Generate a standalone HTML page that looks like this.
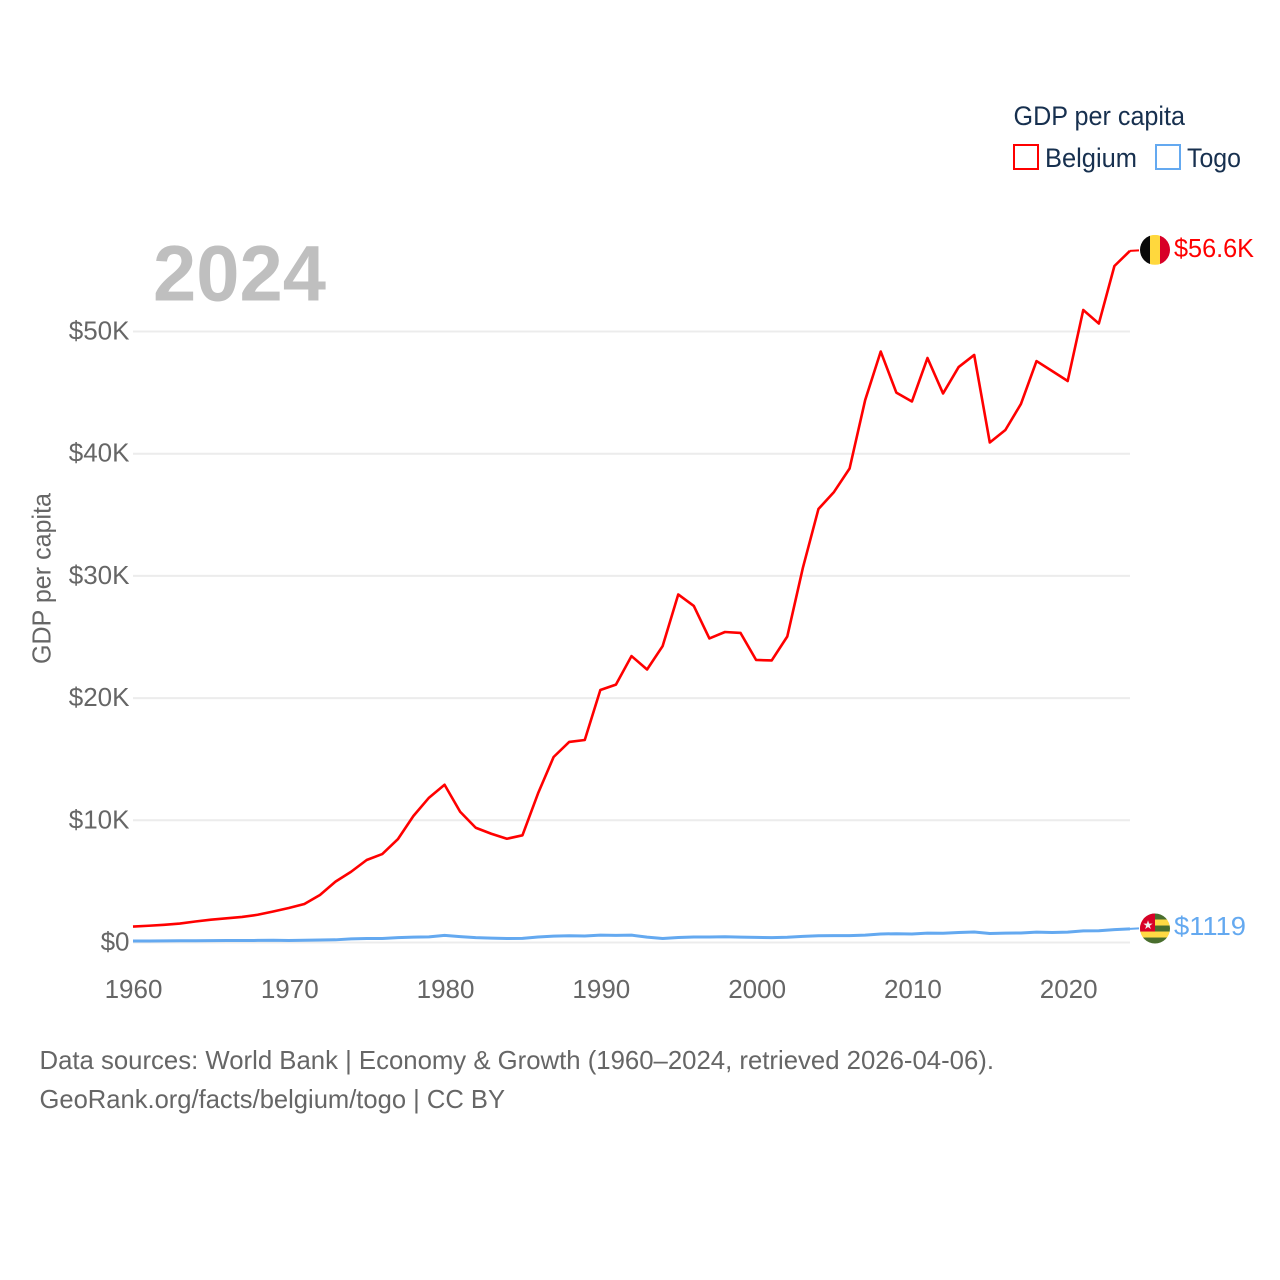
<!DOCTYPE html>
<html lang="en">
<head>
<meta charset="utf-8">
<title>GDP per capita: Belgium and Togo</title>
<style>
  html, body { margin: 0; padding: 0; background: #fff; }
  svg { display: block; font-family: "Liberation Sans", Arial, sans-serif; }
</style>
</head>
<body>
<svg id="chart" xmlns="http://www.w3.org/2000/svg" width="1280" height="1280" viewBox="0 0 1280 1280">
  <defs>
    <clipPath id="flag-clip-be"><circle cx="1155" cy="0" r="15"></circle></clipPath>
    <clipPath id="flag-clip-tg"><circle cx="1155" cy="0" r="15"></circle></clipPath>
  </defs>
  <rect width="1280" height="1280" fill="#fff"></rect>

  <g id="grid"></g>
  <g id="y-ticks"></g>
  <g id="x-ticks"></g>

  <text x="153" y="300.5" font-size="79" font-weight="700" fill="#bfbfbf" textLength="173" lengthAdjust="spacingAndGlyphs">2024</text>

  <text transform="translate(50.5,664) rotate(-90)" font-size="26" fill="#666" textLength="171" lengthAdjust="spacingAndGlyphs">GDP per capita</text>

  <g id="series"></g>

  <g id="flag-belgium"></g>
  <g id="flag-togo"></g>

  <text id="label-belgium" x="1174" font-size="26" fill="#ff0000" textLength="80" lengthAdjust="spacingAndGlyphs"></text>
  <text id="label-togo" x="1174" font-size="26" fill="#64a9f0" textLength="72" lengthAdjust="spacingAndGlyphs"></text>

  <g>
    <text x="1013.5" y="125" font-size="27" fill="#17304f" textLength="171.5" lengthAdjust="spacingAndGlyphs">GDP per capita</text>
    <g>
      <rect x="1014" y="145" width="24" height="24" fill="#fff" stroke="#ff0000" stroke-width="2"></rect>
      <text x="1045" y="167" font-size="27" fill="#17304f" textLength="92" lengthAdjust="spacingAndGlyphs">Belgium</text>
    </g>
    <g>
      <rect x="1156" y="145" width="24" height="24" fill="#fff" stroke="#64a9f0" stroke-width="2"></rect>
      <text x="1187" y="167" font-size="27" fill="#17304f" textLength="54" lengthAdjust="spacingAndGlyphs">Togo</text>
    </g>
  </g>

  <text x="39.5" y="1069" font-size="26" fill="#666" textLength="954.5" lengthAdjust="spacingAndGlyphs">Data sources: World Bank | Economy &amp; Growth (1960–2024, retrieved 2026-04-06).</text>
  <text x="39.5" y="1108" font-size="26" fill="#666" textLength="465.5" lengthAdjust="spacingAndGlyphs">GeoRank.org/facts/belgium/togo | CC BY</text>
</svg>

<script>
const startYear = 1960;
const xTickYears = [1960, 1970, 1980, 1990, 2000, 2010, 2020];
const yTickValues = [0, 10, 20, 30, 40, 50];
const yTickLabels = ['$0', '$10K', '$20K', '$30K', '$40K', '$50K'];

// GDP per capita, thousands of US dollars, 1960 to 2024
const belgiumValues = [
  1.3, 1.37, 1.45, 1.55, 1.72, 1.87, 1.98, 2.09, 2.27, 2.54,
  2.82, 3.15, 3.89, 4.98, 5.79, 6.75, 7.24, 8.45, 10.35, 11.85,
  12.91, 10.7, 9.39, 8.9, 8.49, 8.77, 12.2, 15.18, 16.41, 16.57,
  20.66, 21.1, 23.44, 22.34, 24.26, 28.48, 27.54, 24.88, 25.41, 25.33,
  23.12, 23.08, 25.04, 30.65, 35.47, 36.87, 38.79, 44.39, 48.36, 45.0,
  44.27, 47.83, 44.93, 47.09, 48.08, 40.92, 41.94, 44.07, 47.58, 46.77,
  45.95, 51.76, 50.65, 55.36, 56.6
];
const togoValues = [
  0.12, 0.12, 0.13, 0.14, 0.14, 0.15, 0.16, 0.16, 0.17, 0.18,
  0.16, 0.18, 0.2, 0.22, 0.3, 0.33, 0.33, 0.4, 0.44, 0.46,
  0.58, 0.48, 0.4, 0.36, 0.33, 0.34, 0.45, 0.52, 0.55, 0.53,
  0.6, 0.58, 0.6, 0.44, 0.33, 0.41, 0.45, 0.45, 0.47, 0.44,
  0.42, 0.4, 0.43, 0.5, 0.55, 0.56, 0.56, 0.6, 0.7, 0.72,
  0.7, 0.77, 0.76, 0.82, 0.86, 0.74, 0.77, 0.78, 0.85, 0.82,
  0.85, 0.95, 0.96, 1.05, 1.119
];

const SVG_NS = 'http://www.w3.org/2000/svg';
const xScale = function (year) { return 133 + (year - 1960) * 15.578; };
const yScale = function (value) { return 942.5 - value * 12.22; };

function make(tag, attrs, parent) {
  const el = document.createElementNS(SVG_NS, tag);
  for (const key in attrs) el.setAttribute(key, attrs[key]);
  parent.appendChild(el);
  return el;
}

const grid = document.getElementById('grid');
const yTicks = document.getElementById('y-ticks');
yTickValues.forEach(function (value, i) {
  const line = make('line', { x1: 133, x2: 1130, y1: yScale(value), y2: yScale(value), stroke: '#ececec', 'stroke-width': 2 }, grid);
  
  
  const label = make('text', { x: 129.5, y: yScale(value) + 8, 'text-anchor': 'end', 'font-size': 26, fill: '#666' }, yTicks);
  label.textContent = yTickLabels[i];
  
  
});

const xTicks = document.getElementById('x-ticks');
xTickYears.forEach(function (year) {
  const label = make('text', { x: xScale(year) + (year === 1960 ? 0.5 : 1), y: 998, 'text-anchor': 'middle', 'font-size': 26, fill: '#666' }, xTicks);
  label.textContent = String(year);
  
  
});

function pointsFor(values) {
  return values.map(function (value, i) {
    return xScale(startYear + i).toFixed(2) + ',' + yScale(value).toFixed(2);
  }).join(' ');
}

const series = document.getElementById('series');

const togoLine = make('polyline', { points: pointsFor(togoValues), fill: 'none', stroke: '#64a9f0', 'stroke-width': 3, 'stroke-linejoin': 'round' }, series);



const belgiumLine = make('polyline', { points: pointsFor(belgiumValues), fill: 'none', stroke: '#ff0000', 'stroke-width': 2.6, 'stroke-linejoin': 'round' }, series);



const lastBelgium = belgiumValues[belgiumValues.length - 1];
const lastTogo = togoValues[togoValues.length - 1];
const belgiumY = yScale(lastBelgium);
const togoY = yScale(lastTogo);

const belgiumLink = make('line', { x1: 1130, x2: 1139, y1: belgiumY, y2: belgiumY - 0.5, stroke: '#ff0000', 'stroke-width': 2 }, series);



const togoLink = make('line', { x1: 1130, x2: 1139, y1: togoY, y2: togoY - 0.5, stroke: '#64a9f0', 'stroke-width': 2 }, series);



// Belgium flag
const belgiumCy = belgiumY - 1;
document.querySelector('#flag-clip-be circle').setAttribute('cy', belgiumCy);
const flagBe = document.getElementById('flag-belgium');
flagBe.setAttribute('clip-path', 'url(#flag-clip-be)');
['#0a0a0a', '#ffd83d', '#d80027'].forEach(function (color, i) {
  const stripe = make('rect', { x: 1140 + i * 10, y: belgiumCy - 15, width: 10.2, height: 30, fill: color }, flagBe);
  
  
});

// Togo flag
const togoCy = togoY - 0.3;
document.querySelector('#flag-clip-tg circle').setAttribute('cy', togoCy);
const flagTg = document.getElementById('flag-togo');
flagTg.setAttribute('clip-path', 'url(#flag-clip-tg)');
['#496e2d', '#ffda44', '#496e2d', '#ffda44', '#496e2d'].forEach(function (color, i) {
  const stripe = make('rect', { x: 1140, y: togoCy - 15 + i * 6, width: 30, height: 6.2, fill: color }, flagTg);
  
  
});
const canton = make('rect', { x: 1140, y: togoCy - 15, width: 15, height: 18, fill: '#d80027' }, flagTg);


const star = make('text', { x: 1148, y: togoCy + 0.5, 'text-anchor': 'middle', 'font-size': 12, fill: '#f0f0f0', 'font-family': '"DejaVu Sans", sans-serif' }, flagTg);
star.textContent = '★';



// End-of-line value labels
const labelBelgium = document.getElementById('label-belgium');
labelBelgium.setAttribute('y', belgiumY + 6);
labelBelgium.textContent = '$' + lastBelgium.toFixed(1) + 'K';
const labelTogo = document.getElementById('label-togo');
labelTogo.setAttribute('y', togoY + 6);
labelTogo.textContent = '$' + Math.round(lastTogo * 1000);
</script>
</body>
</html>
